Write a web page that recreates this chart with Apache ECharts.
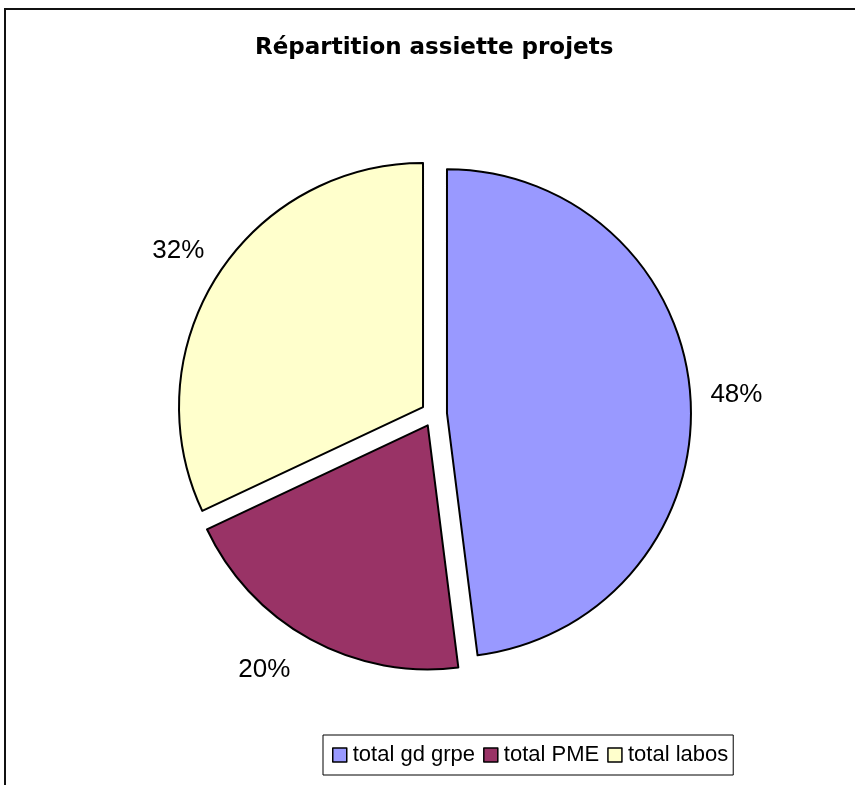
<!DOCTYPE html>
<html>
<head>
<meta charset="utf-8">
<script src="https://cdn.jsdelivr.net/npm/echarts@6/dist/echarts.min.js"></script>
<style>
  html, body { margin: 0; padding: 0; background: #fff; }
  #chart { width: 855px; height: 785px; }
</style>
</head>
<body>
<div id="chart"></div>
<script>
var titleText = 'Répartition assiette projets';
var categories = ['total gd grpe', 'total PME', 'total labos'];
var shares = [48, 20, 32];
var colors = ['#9999FF', '#993366', '#FFFFCC'];

var font = '"Liberation Sans", Arial, sans-serif';
var chart = echarts.init(document.getElementById('chart'));

// small per-slice label nudges (Excel places them a bit differently)
var labelLen = [47, 35, 47];
var labelLen2 = [0, 30, 0];

var pieData = categories.map(function (name, i) {
  return {
    name: name,
    value: shares[i],
    selected: true,
    itemStyle: { color: colors[i] },
    labelLine: { show: false, length: labelLen[i], length2: labelLen2[i] }
  };
});

chart.setOption({
  animation: false,
  backgroundColor: '#fff',
  graphic: [{
    type: 'rect',
    shape: { x: 5, y: 9, width: 900, height: 900 },
    style: { fill: 'none', stroke: '#111', lineWidth: 2 },
    silent: true
  }],
  title: {
    text: titleText,
    left: 255,
    top: 37,
    padding: 0,
    textStyle: { fontFamily: '"DejaVu Sans", sans-serif', fontSize: 23, fontWeight: 'bold', color: '#000' }
  },
  legend: {
    data: categories,
    left: 323,
    top: 735,
    orient: 'horizontal',
    icon: 'rect',
    itemWidth: 14,
    itemHeight: 14,
    itemGap: 8,
    padding: [9, 5, 9, 9],
    borderColor: '#000',
    borderWidth: 1,
    backgroundColor: '#fff',
    itemStyle: { borderColor: '#000', borderWidth: 1.5 },
    textStyle: { fontFamily: font, fontSize: 22, color: '#000', padding: [0, 0, 0, 1] }
  },
  series: [{
    type: 'pie',
    center: [434, 414],
    radius: 244,
    startAngle: 90,
    clockwise: true,
    selectedMode: 'multiple',
    selectedOffset: 13,
    avoidLabelOverlap: false,
    itemStyle: { borderColor: '#000', borderWidth: 2 },
    label: {
      show: true,
      position: 'outside',
      formatter: '{d}%',
      distanceToLabelLine: -27,
      fontFamily: font,
      fontSize: 26,
      color: '#000'
    },
    emphasis: { disabled: true },
    data: pieData
  }]
});
</script>
</body>
</html>
